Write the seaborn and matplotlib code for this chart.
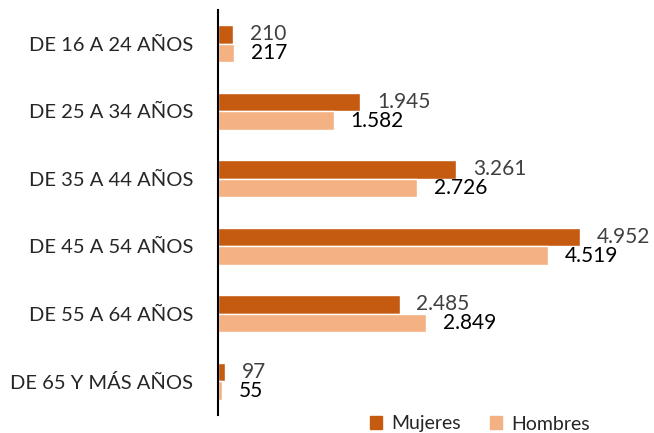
import pandas as pd
import matplotlib
matplotlib.use("Agg")
import matplotlib.pyplot as plt
import seaborn as sns

# Datos
categorias = ["DE 16 A 24 AÑOS", "DE 25 A 34 AÑOS", "DE 35 A 44 AÑOS",
              "DE 45 A 54 AÑOS", "DE 55 A 64 AÑOS", "DE 65 Y MÁS AÑOS"]
mujeres = [210, 1945, 3261, 4952, 2485, 97]
hombres = [217, 1582, 2726, 4519, 2849, 55]
series = ["Mujeres", "Hombres"]
colores = {"Mujeres": "#C55A11", "Hombres": "#F4B183"}
color_etiqueta = {"Mujeres": "#404040", "Hombres": "#000000"}


def fmt(v):
    # separador de miles con punto
    return f"{v:,}".replace(",", ".")


df = pd.DataFrame({
    "grupo": categorias * 2,
    "valor": mujeres + hombres,
    "sexo": ["Mujeres"] * len(categorias) + ["Hombres"] * len(categorias),
})

sns.set_style("white")
plt.rcParams["font.family"] = ["Lato", "DejaVu Sans"]

fig = plt.figure(figsize=(6.54, 4.33), dpi=100)
ax = fig.add_axes([218 / 654, 1 - 415 / 433, (642 - 218) / 654, 405 / 433])

sns.barplot(data=df, y="grupo", x="valor", hue="sexo", hue_order=series,
            order=categorias, palette=colores, orient="h", width=0.55,
            saturation=1, ax=ax, legend=False)

ax.set_xlim(0, 5800)
ax.set_ylim(5.5, -0.5)
ax.set_xlabel("")
ax.set_ylabel("")
ax.set_xticks([])
ax.tick_params(axis="y", length=0, pad=18, labelsize=14.5)
for s in ["top", "right", "bottom"]:
    ax.spines[s].set_visible(False)
ax.spines["left"].set_color("black")
ax.spines["left"].set_linewidth(1.5)

# Etiquetas de valores
for cont, nombre in zip(ax.containers, series):
    vals = mujeres if nombre == "Mujeres" else hombres
    for barra, v in zip(cont, vals):
        y = barra.get_y() + barra.get_height() / 2
        ax.annotate(fmt(v), (barra.get_width(), y), xytext=(12, 0),
                    textcoords="offset points", va="center", ha="left",
                    fontsize=15, color=color_etiqueta[nombre])

handles = [plt.Rectangle((0, 0), 1, 1, color=colores[s]) for s in series]
fig.legend(handles, series, loc="center", bbox_to_anchor=(480 / 654, 1 - 424 / 433),
           ncol=2, frameon=False, fontsize=14, handlelength=0.6, handleheight=0.6,
           handletextpad=0.5, columnspacing=1.5)

fig.savefig("out.png", dpi=100)
